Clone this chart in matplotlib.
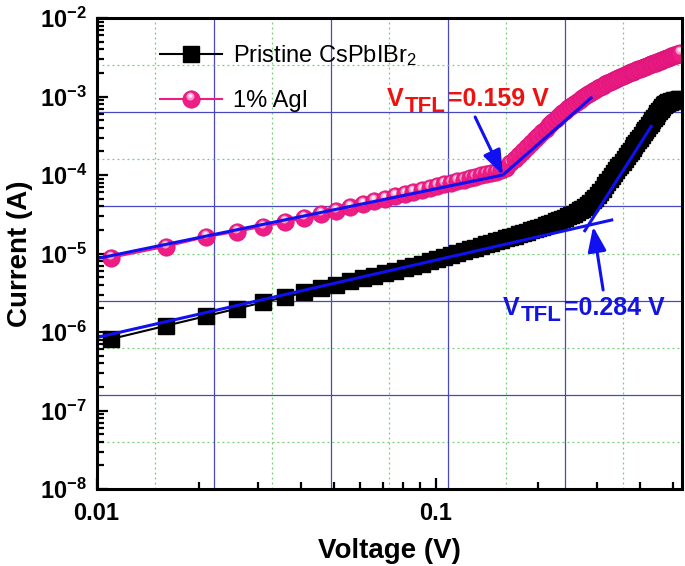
import matplotlib
matplotlib.use("Agg")
import matplotlib.pyplot as plt
import numpy as np
from matplotlib.lines import Line2D
from matplotlib.path import Path
from matplotlib.ticker import FixedLocator, FuncFormatter, LogLocator, NullFormatter

plt.rcParams["font.family"] = ["Liberation Sans", "DejaVu Sans"]
plt.rcParams["mathtext.fontset"] = "custom"
plt.rcParams["mathtext.rm"] = "Liberation Sans"
plt.rcParams["mathtext.bf"] = "Liberation Sans:bold"
plt.rcParams["mathtext.default"] = "rm"

# ---- data ----
voltage = [
    0.011, 0.016, 0.021, 0.026, 0.031, 0.036, 0.041, 0.046, 0.051, 0.056,
    0.061, 0.066, 0.071, 0.076, 0.081, 0.086, 0.091, 0.096, 0.101, 0.106,
    0.111, 0.116, 0.121, 0.126, 0.131, 0.136, 0.141, 0.146, 0.151, 0.156,
    0.161, 0.166, 0.171, 0.176, 0.181, 0.186, 0.191, 0.196, 0.201, 0.206,
    0.211, 0.216, 0.221, 0.226, 0.231, 0.236, 0.241, 0.246, 0.251, 0.256,
    0.261, 0.266, 0.271, 0.276, 0.281, 0.286, 0.291, 0.296, 0.301, 0.306,
    0.311, 0.316, 0.321, 0.326, 0.331, 0.336, 0.341, 0.346, 0.351, 0.356,
    0.361, 0.366, 0.371, 0.376, 0.381, 0.386, 0.391, 0.396, 0.401, 0.406,
    0.411, 0.416, 0.421, 0.426, 0.431, 0.436, 0.441, 0.446, 0.451, 0.456,
    0.461, 0.466, 0.471, 0.476, 0.481, 0.486, 0.491, 0.496, 0.501, 0.506,
    0.511, 0.516, 0.521, 0.526,
]

current_pristine = [
    8.11e-7, 1.20e-6, 1.59e-6, 1.99e-6, 2.39e-6, 2.79e-6, 3.19e-6, 3.60e-6, 4.01e-6, 4.42e-6,
    4.82e-6, 5.24e-6, 5.65e-6, 6.07e-6, 6.49e-6, 6.90e-6, 7.31e-6, 7.93e-6, 8.45e-6, 8.97e-6,
    9.53e-6, 1.009e-5, 1.067e-5, 1.125e-5, 1.186e-5, 1.247e-5, 1.306e-5, 1.368e-5, 1.429e-5, 1.493e-5,
    1.556e-5, 1.622e-5, 1.690e-5, 1.758e-5, 1.824e-5, 1.897e-5, 1.968e-5, 2.037e-5, 2.113e-5, 2.203e-5,
    2.291e-5, 2.382e-5, 2.477e-5, 2.576e-5, 2.679e-5, 2.765e-5, 2.851e-5, 2.965e-5, 3.090e-5, 3.228e-5,
    3.381e-5, 3.556e-5, 3.741e-5, 3.945e-5, 4.169e-5, 4.446e-5, 4.764e-5, 5.152e-5, 5.610e-5, 6.138e-5,
    6.730e-5, 7.362e-5, 8.054e-5, 8.810e-5, 9.616e-5, 1.050e-4, 1.146e-4, 1.247e-4, 1.358e-4, 1.476e-4,
    1.603e-4, 1.738e-4, 1.884e-4, 2.042e-4, 2.208e-4, 2.388e-4, 2.582e-4, 2.786e-4, 2.999e-4, 3.236e-4,
    3.483e-4, 3.750e-4, 4.027e-4, 4.325e-4, 4.645e-4, 4.977e-4, 5.321e-4, 5.675e-4, 6.166e-4, 6.607e-4,
    7.015e-4, 7.396e-4, 7.727e-4, 7.998e-4, 8.222e-4, 8.414e-4, 8.570e-4, 8.710e-4, 8.831e-4, 8.933e-4,
    9.036e-4, 9.120e-4, 9.204e-4, 9.290e-4,
]

current_agi = [
    8.8e-6, 1.22e-5, 1.62e-5, 1.90e-5, 2.20e-5, 2.50e-5, 2.83e-5, 3.18e-5, 3.50e-5, 3.90e-5,
    4.27e-5, 4.63e-5, 5.00e-5, 5.37e-5, 5.74e-5, 6.12e-5, 6.49e-5, 6.87e-5, 7.24e-5, 7.62e-5,
    8.00e-5, 8.38e-5, 8.75e-5, 9.14e-5, 9.51e-5, 9.89e-5, 1.028e-4, 1.067e-4, 1.105e-4, 1.143e-4,
    1.245e-4, 1.403e-4, 1.585e-4, 1.786e-4, 2.018e-4, 2.265e-4, 2.535e-4, 2.838e-4, 3.162e-4, 3.516e-4,
    3.890e-4, 4.295e-4, 4.721e-4, 5.164e-4, 5.623e-4, 6.095e-4, 6.577e-4, 7.063e-4, 7.568e-4, 8.072e-4,
    8.590e-4, 9.120e-4, 9.638e-4, 1.016e-3, 1.069e-3, 1.122e-3, 1.175e-3, 1.227e-3, 1.279e-3, 1.330e-3,
    1.380e-3, 1.432e-3, 1.483e-3, 1.531e-3, 1.581e-3, 1.629e-3, 1.679e-3, 1.730e-3, 1.778e-3, 1.828e-3,
    1.875e-3, 1.923e-3, 1.972e-3, 2.023e-3, 2.070e-3, 2.118e-3, 2.168e-3, 2.218e-3, 2.265e-3, 2.312e-3,
    2.360e-3, 2.410e-3, 2.460e-3, 2.512e-3, 2.559e-3, 2.612e-3, 2.661e-3, 2.710e-3, 2.761e-3, 2.812e-3,
    2.864e-3, 2.917e-3, 2.972e-3, 3.027e-3, 3.076e-3, 3.133e-3, 3.184e-3, 3.243e-3, 3.296e-3, 3.350e-3,
    3.404e-3, 3.459e-3, 3.516e-3, 3.573e-3,
]

# straight fit segments (blue) drawn over the data
fit_pristine_low_v = [0.01, 0.334]
fit_pristine_low_i = [8.5e-7, 2.7e-5]
fit_pristine_high_v = [0.274, 0.435]
fit_pristine_high_i = [1.88e-5, 4.33e-4]
fit_agi_low_v = [0.01, 0.158]
fit_agi_low_i = [8.6e-6, 1.0e-4]
fit_agi_high_v = [0.158, 0.29]
fit_agi_high_i = [1.0e-4, 9.9e-4]

# V_TFL arrows: (tail, head)
arrow_agi = [(0.1308, 5.48e-4), (0.158, 1.0e-4)]
arrow_pristine = [(0.312, 3.43e-6), (0.2915, 2.2e-5)]
vtfl_agi = "0.159"
vtfl_pristine = "0.284"

series_labels = ["Pristine CsPbIBr$_2$", "1% AgI"]
x_ticks = [0.01, 0.1]
x_tick_labels = ["0.01", "0.1"]
y_ticks = [1e-8, 1e-7, 1e-6, 1e-5, 1e-4, 1e-3, 1e-2]
y_tick_labels = [r"$\mathbf{10^{-8}}$", r"$\mathbf{10^{-7}}$", r"$\mathbf{10^{-6}}$",
                 r"$\mathbf{10^{-5}}$", r"$\mathbf{10^{-4}}$", r"$\mathbf{10^{-3}}$",
                 r"$\mathbf{10^{-2}}$"]

PINK = "#EE1C84"
FIT_BLUE = "#1010F0"
GRID_BLUE = "#4848C0"
GRID_GREEN = "#70D070"
SQ_MS = 11.5
BALL_MS = 12.5


def offset_circle_marker(cx, cy, r):
    # a small circle inside the unit marker box; the two bare MOVETO points
    # at (+-1, 0) keep matplotlib from rescaling it to full marker size
    stub = Path([(1, 0), (-1, 0)], [Path.MOVETO, Path.MOVETO])
    return Path.make_compound_path(stub, Path.circle((cx, cy), r))


HL1 = offset_circle_marker(-0.12, 0.34, 0.46)
HL2 = offset_circle_marker(-0.12, 0.42, 0.24)

fig = plt.figure(figsize=(6.85, 5.66), dpi=100)
ax = fig.add_axes([0.1409, 0.1360, 0.8547, 0.8322])
ax.set_xscale("log")
ax.set_yscale("log")
ax.set_xlim(0.01, 0.533)
ax.set_ylim(1e-8, 1e-2)

# Origin-style grid: ten equal divisions, blue solid / green dotted alternating
for i in range(1, 10):
    f = i / 10
    if i % 2 == 0:
        kw = dict(color=GRID_BLUE, lw=0.9, ls="-")
    else:
        kw = dict(color=GRID_GREEN, lw=0.9, ls=(0, (1.5, 2.5)))
    ax.plot([f, f], [0, 1], transform=ax.transAxes, zorder=0.5, **kw)
    ax.plot([0, 1], [f, f], transform=ax.transAxes, zorder=0.5, **kw)

# pristine: black squares
ax.plot(voltage, current_pristine, color="black", lw=1.5, marker="s", ms=SQ_MS,
        mfc="black", mec="black", zorder=2)

# 1% AgI: shaded pink spheres, each drawn whole so later ones cover earlier
ax.plot(voltage, current_agi, color=PINK, lw=1.5, zorder=2)
for k, (v, c) in enumerate(zip(voltage, current_agi)):
    z = 2 + k * 0.001
    ax.plot([v], [c], ls="none", marker="o", ms=BALL_MS, mfc=PINK, mec="#D8147A",
            mew=0.5, zorder=z)
    ax.plot([v], [c], ls="none", marker=HL1, ms=BALL_MS, mfc="#F59AC6", mew=0,
            zorder=z + 0.0002)
    ax.plot([v], [c], ls="none", marker=HL2, ms=BALL_MS, mfc="#FDE4F0", mew=0,
            zorder=z + 0.0004)

for fv, fi in [(fit_pristine_low_v, fit_pristine_low_i),
               (fit_pristine_high_v, fit_pristine_high_i),
               (fit_agi_low_v, fit_agi_low_i),
               (fit_agi_high_v, fit_agi_high_i)]:
    ax.plot(fv, fi, color=FIT_BLUE, lw=2.2, solid_capstyle="butt", zorder=4)

for tail, head in [arrow_agi, arrow_pristine]:
    ax.annotate("", xy=head, xytext=tail,
                arrowprops=dict(arrowstyle="-|>,head_length=0.75,head_width=0.28",
                                color=FIT_BLUE, lw=2.2, shrinkA=0, shrinkB=0,
                                mutation_scale=20),
                zorder=5)


def tfl_label(x, y, value, color):
    t1 = ax.text(x, y, "V", fontsize=18, fontweight="bold", color=color,
                 ha="left", va="baseline", zorder=6)
    t2 = ax.annotate("TFL", xy=(1, 0), xycoords=t1, xytext=(1, -4.5),
                     textcoords="offset points", fontsize=16, fontweight="bold",
                     color=color, ha="left", va="bottom", zorder=6)
    ax.annotate("=%s V" % value, xy=(1, 0), xycoords=(t2, t1), xytext=(1.5, 0),
                textcoords="offset points", fontsize=18, fontweight="bold",
                color=color, ha="left", va="bottom", zorder=6)


tfl_label(0.0719, 7.57e-4, vtfl_agi, "#EE1111")
tfl_label(0.1577, 1.65e-6, vtfl_pristine, "#1414E0")

# axes styling
for s in ax.spines.values():
    s.set_linewidth(2.2)
    s.set_zorder(7)

ax.xaxis.set_major_locator(FixedLocator(x_ticks))
ax.xaxis.set_major_formatter(FuncFormatter(lambda v, p: x_tick_labels[x_ticks.index(v)] if v in x_ticks else ""))
ax.xaxis.set_minor_locator(LogLocator(base=10, subs=np.arange(2, 10)))
ax.xaxis.set_minor_formatter(NullFormatter())
ax.yaxis.set_major_locator(FixedLocator(y_ticks))
ax.yaxis.set_major_formatter(FuncFormatter(lambda v, p: y_tick_labels[p] if p is not None and p < len(y_tick_labels) else ""))
ax.yaxis.set_minor_locator(LogLocator(base=10, subs=np.arange(2, 10), numticks=20))
ax.yaxis.set_minor_formatter(NullFormatter())

ax.tick_params(which="both", direction="in", top=False, right=False, width=1.6)
ax.tick_params(which="major", length=8)
ax.tick_params(which="minor", length=5)
ax.tick_params(axis="x", which="major", pad=9, labelsize=17)
ax.tick_params(axis="y", which="major", pad=7, labelsize=17)
for lab in ax.get_xticklabels():
    lab.set_fontweight("bold")

ax.set_xlabel("Voltage (V)", fontsize=20, fontweight="bold")
ax.set_ylabel("Current (A)", fontsize=20, fontweight="bold")
ax.xaxis.set_label_coords(0.5, -0.103)
ax.yaxis.set_label_coords(-0.108, 0.5)

# legend
h_pristine = Line2D([], [], color="black", lw=1.5, marker="s", ms=SQ_MS, mfc="black", mec="black")
h_agi = (
    Line2D([], [], color=PINK, lw=1.5, marker="o", ms=BALL_MS, mfc=PINK, mec="#D8147A", mew=0.5),
    Line2D([], [], ls="none", marker=HL1, ms=BALL_MS, mfc="#F59AC6", mew=0),
    Line2D([], [], ls="none", marker=HL2, ms=BALL_MS, mfc="#FDE4F0", mew=0),
)
ax.legend([h_pristine, h_agi], series_labels, loc="upper left",
          bbox_to_anchor=(0.1085, 0.947), frameon=False, fontsize=17,
          handlelength=2.63, handletextpad=0.47, labelspacing=0.95,
          borderpad=0, borderaxespad=0, numpoints=1)

fig.savefig("out.png", dpi=100, facecolor="white")
